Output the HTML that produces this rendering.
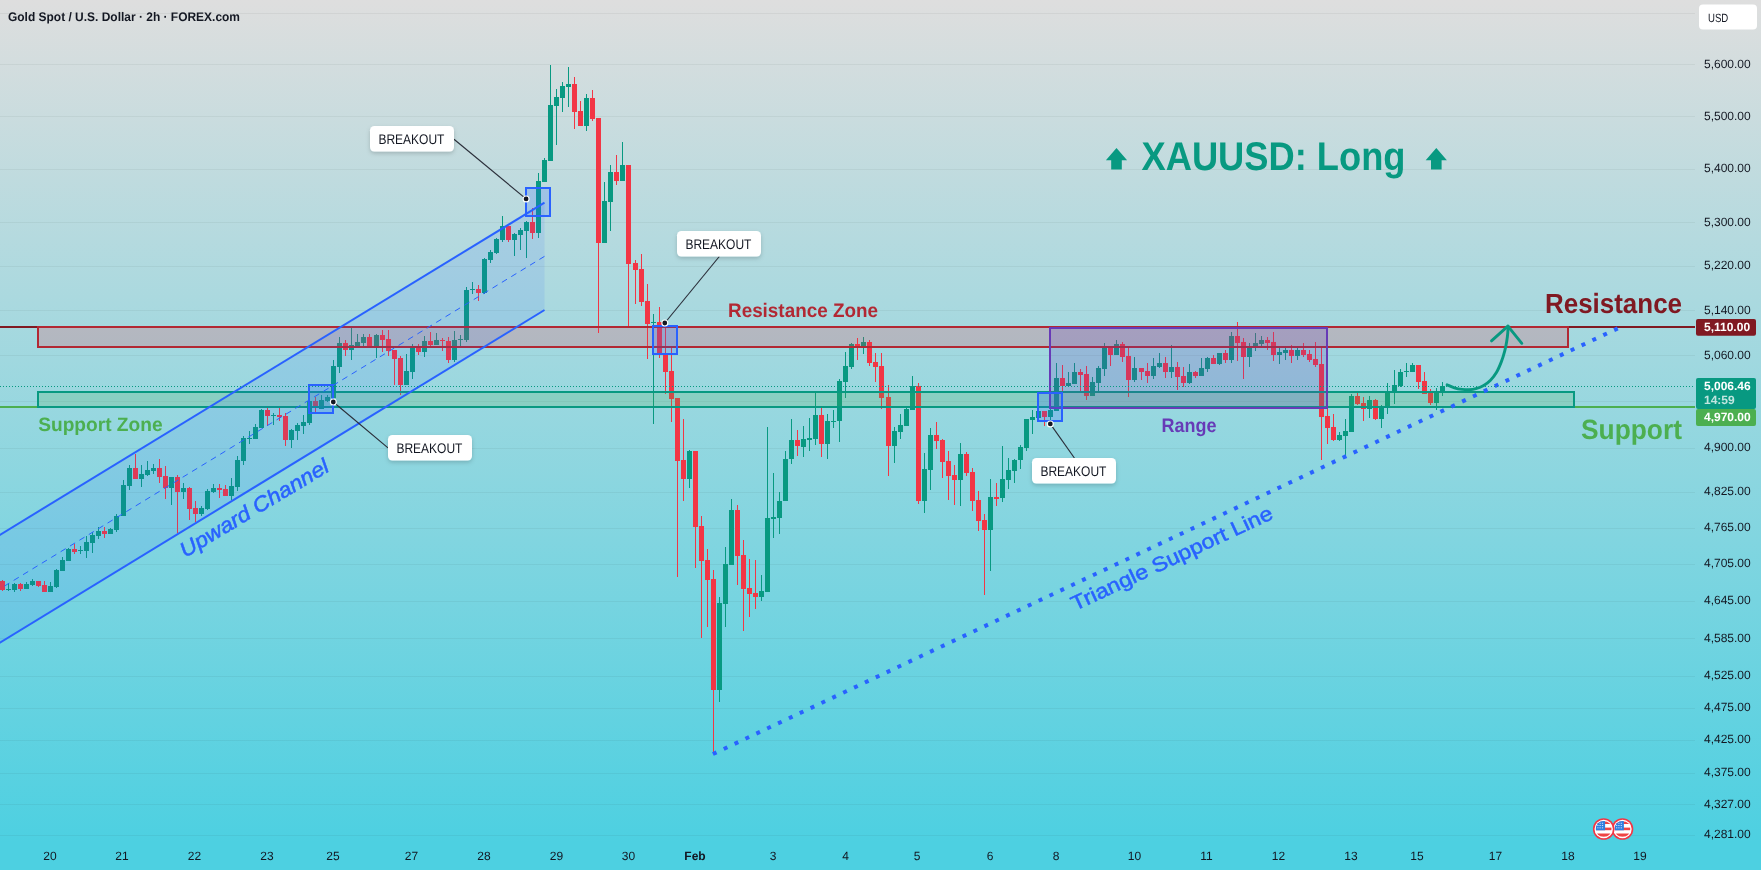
<!DOCTYPE html>
<html lang="en"><head><meta charset="utf-8"><title>XAUUSD: Long</title>
<style>
html,body{margin:0;padding:0;background:#4dd0e1;overflow:hidden}
svg{display:block}
text{font-family:'Liberation Sans', Arial, sans-serif;text-rendering:geometricPrecision}
svg{will-change:transform}
.ax{font-size:12px;fill:#131722}
.co{font-size:14px;fill:#131722}
</style></head><body>
<svg width="1761" height="870" viewBox="0 0 1761 870">
<defs>
<linearGradient id="bg" x1="0" y1="0" x2="0" y2="1"><stop offset="0" stop-color="#dedede"/><stop offset="1" stop-color="#4dd0e1"/></linearGradient>
<filter id="sh" x="-20%" y="-30%" width="140%" height="180%"><feDropShadow dx="0" dy="2" stdDeviation="2" flood-color="#000" flood-opacity="0.18"/></filter>
<clipPath id="fc"><circle cx="0" cy="0" r="8"/></clipPath>

</defs>
<rect width="1761" height="842" fill="url(#bg)"/><rect y="842" width="1761" height="28" fill="#4dd0e1"/>

<g stroke="#2a2e39" stroke-opacity="0.06" stroke-width="1" shape-rendering="crispEdges">
<line x1="0" y1="13.5" x2="1695" y2="13.5"/>
<line x1="0" y1="64.5" x2="1695" y2="64.5"/>
<line x1="0" y1="116.5" x2="1695" y2="116.5"/>
<line x1="0" y1="169.5" x2="1695" y2="169.5"/>
<line x1="0" y1="222.5" x2="1695" y2="222.5"/>
<line x1="0" y1="266.5" x2="1695" y2="266.5"/>
<line x1="0" y1="310.5" x2="1695" y2="310.5"/>
<line x1="0" y1="355.5" x2="1695" y2="355.5"/>
<line x1="0" y1="401.5" x2="1695" y2="401.5"/>
<line x1="0" y1="448.5" x2="1695" y2="448.5"/>
<line x1="0" y1="492.5" x2="1695" y2="492.5"/>
<line x1="0" y1="528.5" x2="1695" y2="528.5"/>
<line x1="0" y1="564.5" x2="1695" y2="564.5"/>
<line x1="0" y1="601.5" x2="1695" y2="601.5"/>
<line x1="0" y1="638.5" x2="1695" y2="638.5"/>
<line x1="0" y1="676.5" x2="1695" y2="676.5"/>
<line x1="0" y1="708.5" x2="1695" y2="708.5"/>
<line x1="0" y1="740.5" x2="1695" y2="740.5"/>
<line x1="0" y1="773.5" x2="1695" y2="773.5"/>
<line x1="0" y1="804.5" x2="1695" y2="804.5"/>
<line x1="0" y1="835.5" x2="1695" y2="835.5"/>
</g>
<g shape-rendering="crispEdges">
<rect x="2" y="580" width="1" height="11" fill="#f23645"/><rect x="0" y="581" width="5" height="9" fill="#f23645"/>
<rect x="8" y="583" width="1" height="8" fill="#089981"/><rect x="6" y="589" width="5" height="1" fill="#089981"/>
<rect x="14" y="583" width="1" height="9" fill="#089981"/><rect x="12" y="584" width="5" height="6" fill="#089981"/>
<rect x="20" y="583" width="1" height="8" fill="#f23645"/><rect x="18" y="584" width="5" height="5" fill="#f23645"/>
<rect x="26" y="582" width="1" height="7" fill="#089981"/><rect x="24" y="584" width="5" height="5" fill="#089981"/>
<rect x="32" y="579" width="1" height="7" fill="#089981"/><rect x="30" y="581" width="5" height="4" fill="#089981"/>
<rect x="38" y="581" width="1" height="6" fill="#f23645"/><rect x="36" y="581" width="5" height="5" fill="#f23645"/>
<rect x="44" y="581" width="1" height="11" fill="#f23645"/><rect x="42" y="585" width="5" height="7" fill="#f23645"/>
<rect x="50" y="582" width="1" height="10" fill="#089981"/><rect x="48" y="586" width="5" height="6" fill="#089981"/>
<rect x="56" y="569" width="1" height="19" fill="#089981"/><rect x="54" y="570" width="5" height="17" fill="#089981"/>
<rect x="62" y="557" width="1" height="14" fill="#089981"/><rect x="60" y="560" width="5" height="11" fill="#089981"/>
<rect x="68" y="548" width="1" height="13" fill="#089981"/><rect x="66" y="549" width="5" height="12" fill="#089981"/>
<rect x="74" y="544" width="1" height="10" fill="#f23645"/><rect x="72" y="549" width="5" height="3" fill="#f23645"/>
<rect x="80" y="546" width="1" height="8" fill="#089981"/><rect x="78" y="550" width="5" height="1" fill="#089981"/>
<rect x="86" y="536" width="1" height="22" fill="#089981"/><rect x="84" y="542" width="5" height="9" fill="#089981"/>
<rect x="92" y="532" width="1" height="21" fill="#089981"/><rect x="90" y="535" width="5" height="8" fill="#089981"/>
<rect x="98" y="527" width="1" height="12" fill="#089981"/><rect x="96" y="531" width="5" height="5" fill="#089981"/>
<rect x="104" y="527" width="1" height="11" fill="#f23645"/><rect x="102" y="531" width="5" height="3" fill="#f23645"/>
<rect x="110" y="528" width="1" height="6" fill="#089981"/><rect x="108" y="529" width="5" height="5" fill="#089981"/>
<rect x="116" y="514" width="1" height="18" fill="#089981"/><rect x="114" y="516" width="5" height="14" fill="#089981"/>
<rect x="123" y="480" width="1" height="36" fill="#089981"/><rect x="121" y="485" width="5" height="31" fill="#089981"/>
<rect x="129" y="465" width="1" height="25" fill="#089981"/><rect x="127" y="468" width="5" height="18" fill="#089981"/>
<rect x="135" y="454" width="1" height="25" fill="#f23645"/><rect x="133" y="468" width="5" height="11" fill="#f23645"/>
<rect x="141" y="465" width="1" height="22" fill="#089981"/><rect x="139" y="474" width="5" height="5" fill="#089981"/>
<rect x="147" y="461" width="1" height="15" fill="#089981"/><rect x="145" y="470" width="5" height="5" fill="#089981"/>
<rect x="153" y="464" width="1" height="10" fill="#089981"/><rect x="151" y="468" width="5" height="3" fill="#089981"/>
<rect x="159" y="459" width="1" height="24" fill="#f23645"/><rect x="157" y="468" width="5" height="9" fill="#f23645"/>
<rect x="165" y="466" width="1" height="33" fill="#f23645"/><rect x="163" y="476" width="5" height="12" fill="#f23645"/>
<rect x="171" y="477" width="1" height="28" fill="#089981"/><rect x="169" y="477" width="5" height="11" fill="#089981"/>
<rect x="177" y="475" width="1" height="58" fill="#f23645"/><rect x="175" y="477" width="5" height="15" fill="#f23645"/>
<rect x="183" y="483" width="1" height="16" fill="#089981"/><rect x="181" y="488" width="5" height="4" fill="#089981"/>
<rect x="189" y="487" width="1" height="33" fill="#f23645"/><rect x="187" y="488" width="5" height="21" fill="#f23645"/>
<rect x="195" y="501" width="1" height="21" fill="#f23645"/><rect x="193" y="508" width="5" height="6" fill="#f23645"/>
<rect x="201" y="506" width="1" height="10" fill="#089981"/><rect x="199" y="508" width="5" height="6" fill="#089981"/>
<rect x="207" y="489" width="1" height="21" fill="#089981"/><rect x="205" y="491" width="5" height="18" fill="#089981"/>
<rect x="213" y="484" width="1" height="9" fill="#089981"/><rect x="211" y="488" width="5" height="4" fill="#089981"/>
<rect x="219" y="484" width="1" height="14" fill="#f23645"/><rect x="217" y="488" width="5" height="2" fill="#f23645"/>
<rect x="225" y="485" width="1" height="11" fill="#f23645"/><rect x="223" y="489" width="5" height="7" fill="#f23645"/>
<rect x="231" y="478" width="1" height="22" fill="#089981"/><rect x="229" y="486" width="5" height="10" fill="#089981"/>
<rect x="237" y="456" width="1" height="35" fill="#089981"/><rect x="235" y="460" width="5" height="27" fill="#089981"/>
<rect x="243" y="436" width="1" height="29" fill="#089981"/><rect x="241" y="438" width="5" height="23" fill="#089981"/>
<rect x="249" y="431" width="1" height="13" fill="#089981"/><rect x="247" y="438" width="5" height="1" fill="#089981"/>
<rect x="255" y="424" width="1" height="15" fill="#089981"/><rect x="253" y="427" width="5" height="12" fill="#089981"/>
<rect x="261" y="409" width="1" height="19" fill="#089981"/><rect x="259" y="410" width="5" height="18" fill="#089981"/>
<rect x="267" y="408" width="1" height="18" fill="#f23645"/><rect x="265" y="410" width="5" height="6" fill="#f23645"/>
<rect x="273" y="413" width="1" height="12" fill="#089981"/><rect x="271" y="415" width="5" height="1" fill="#089981"/>
<rect x="279" y="408" width="1" height="13" fill="#f23645"/><rect x="277" y="415" width="5" height="2" fill="#f23645"/>
<rect x="285" y="413" width="1" height="33" fill="#f23645"/><rect x="283" y="416" width="5" height="24" fill="#f23645"/>
<rect x="291" y="429" width="1" height="19" fill="#089981"/><rect x="289" y="430" width="5" height="10" fill="#089981"/>
<rect x="297" y="423" width="1" height="17" fill="#089981"/><rect x="295" y="425" width="5" height="6" fill="#089981"/>
<rect x="303" y="415" width="1" height="19" fill="#089981"/><rect x="301" y="422" width="5" height="4" fill="#089981"/>
<rect x="309" y="401" width="1" height="24" fill="#089981"/><rect x="307" y="401" width="5" height="22" fill="#089981"/>
<rect x="315" y="397" width="1" height="15" fill="#f23645"/><rect x="313" y="401" width="5" height="7" fill="#f23645"/>
<rect x="321" y="395" width="1" height="14" fill="#089981"/><rect x="319" y="400" width="5" height="9" fill="#089981"/>
<rect x="327" y="395" width="1" height="7" fill="#089981"/><rect x="325" y="397" width="5" height="4" fill="#089981"/>
<rect x="333" y="360" width="1" height="38" fill="#089981"/><rect x="331" y="366" width="5" height="32" fill="#089981"/>
<rect x="339" y="337" width="1" height="36" fill="#089981"/><rect x="337" y="343" width="5" height="24" fill="#089981"/>
<rect x="345" y="340" width="1" height="16" fill="#f23645"/><rect x="343" y="343" width="5" height="7" fill="#f23645"/>
<rect x="351" y="328" width="1" height="32" fill="#089981"/><rect x="349" y="345" width="5" height="5" fill="#089981"/>
<rect x="357" y="334" width="1" height="12" fill="#089981"/><rect x="355" y="342" width="5" height="4" fill="#089981"/>
<rect x="363" y="334" width="1" height="12" fill="#089981"/><rect x="361" y="337" width="5" height="6" fill="#089981"/>
<rect x="369" y="334" width="1" height="12" fill="#f23645"/><rect x="367" y="337" width="5" height="9" fill="#f23645"/>
<rect x="376" y="334" width="1" height="24" fill="#089981"/><rect x="374" y="335" width="5" height="11" fill="#089981"/>
<rect x="382" y="330" width="1" height="22" fill="#f23645"/><rect x="380" y="335" width="5" height="5" fill="#f23645"/>
<rect x="388" y="330" width="1" height="26" fill="#f23645"/><rect x="386" y="339" width="5" height="12" fill="#f23645"/>
<rect x="394" y="350" width="1" height="35" fill="#f23645"/><rect x="392" y="350" width="5" height="9" fill="#f23645"/>
<rect x="400" y="356" width="1" height="39" fill="#f23645"/><rect x="398" y="358" width="5" height="27" fill="#f23645"/>
<rect x="406" y="354" width="1" height="31" fill="#089981"/><rect x="404" y="371" width="5" height="14" fill="#089981"/>
<rect x="412" y="344" width="1" height="35" fill="#089981"/><rect x="410" y="348" width="5" height="24" fill="#089981"/>
<rect x="418" y="344" width="1" height="11" fill="#f23645"/><rect x="416" y="348" width="5" height="4" fill="#f23645"/>
<rect x="424" y="336" width="1" height="21" fill="#089981"/><rect x="422" y="341" width="5" height="11" fill="#089981"/>
<rect x="430" y="332" width="1" height="14" fill="#f23645"/><rect x="428" y="341" width="5" height="4" fill="#f23645"/>
<rect x="436" y="333" width="1" height="12" fill="#089981"/><rect x="434" y="340" width="5" height="5" fill="#089981"/>
<rect x="442" y="338" width="1" height="13" fill="#f23645"/><rect x="440" y="340" width="5" height="1" fill="#f23645"/>
<rect x="448" y="337" width="1" height="26" fill="#f23645"/><rect x="446" y="341" width="5" height="19" fill="#f23645"/>
<rect x="454" y="331" width="1" height="31" fill="#089981"/><rect x="452" y="340" width="5" height="20" fill="#089981"/>
<rect x="460" y="335" width="1" height="11" fill="#089981"/><rect x="458" y="339" width="5" height="1" fill="#089981"/>
<rect x="466" y="287" width="1" height="55" fill="#089981"/><rect x="464" y="290" width="5" height="50" fill="#089981"/>
<rect x="472" y="282" width="1" height="12" fill="#089981"/><rect x="470" y="289" width="5" height="1" fill="#089981"/>
<rect x="478" y="285" width="1" height="16" fill="#f23645"/><rect x="476" y="289" width="5" height="4" fill="#f23645"/>
<rect x="484" y="258" width="1" height="36" fill="#089981"/><rect x="482" y="259" width="5" height="34" fill="#089981"/>
<rect x="490" y="250" width="1" height="13" fill="#089981"/><rect x="488" y="252" width="5" height="8" fill="#089981"/>
<rect x="496" y="238" width="1" height="16" fill="#089981"/><rect x="494" y="239" width="5" height="14" fill="#089981"/>
<rect x="502" y="216" width="1" height="26" fill="#089981"/><rect x="500" y="226" width="5" height="14" fill="#089981"/>
<rect x="508" y="226" width="1" height="16" fill="#f23645"/><rect x="506" y="226" width="5" height="14" fill="#f23645"/>
<rect x="514" y="233" width="1" height="23" fill="#089981"/><rect x="512" y="234" width="5" height="6" fill="#089981"/>
<rect x="520" y="228" width="1" height="22" fill="#089981"/><rect x="518" y="230" width="5" height="5" fill="#089981"/>
<rect x="526" y="221" width="1" height="37" fill="#089981"/><rect x="524" y="222" width="5" height="9" fill="#089981"/>
<rect x="532" y="208" width="1" height="31" fill="#f23645"/><rect x="530" y="222" width="5" height="11" fill="#f23645"/>
<rect x="538" y="173" width="1" height="65" fill="#089981"/><rect x="536" y="181" width="5" height="52" fill="#089981"/>
<rect x="544" y="158" width="1" height="24" fill="#089981"/><rect x="542" y="160" width="5" height="22" fill="#089981"/>
<rect x="550" y="65" width="1" height="96" fill="#089981"/><rect x="548" y="105" width="5" height="56" fill="#089981"/>
<rect x="556" y="89" width="1" height="56" fill="#089981"/><rect x="554" y="97" width="5" height="9" fill="#089981"/>
<rect x="562" y="82" width="1" height="30" fill="#089981"/><rect x="560" y="86" width="5" height="12" fill="#089981"/>
<rect x="568" y="67" width="1" height="40" fill="#089981"/><rect x="566" y="84" width="5" height="3" fill="#089981"/>
<rect x="574" y="77" width="1" height="52" fill="#f23645"/><rect x="572" y="84" width="5" height="28" fill="#f23645"/>
<rect x="580" y="101" width="1" height="25" fill="#f23645"/><rect x="578" y="111" width="5" height="15" fill="#f23645"/>
<rect x="586" y="94" width="1" height="37" fill="#089981"/><rect x="584" y="98" width="5" height="28" fill="#089981"/>
<rect x="592" y="90" width="1" height="31" fill="#f23645"/><rect x="590" y="98" width="5" height="21" fill="#f23645"/>
<rect x="598" y="118" width="1" height="215" fill="#f23645"/><rect x="596" y="118" width="5" height="125" fill="#f23645"/>
<rect x="604" y="182" width="1" height="61" fill="#089981"/><rect x="602" y="201" width="5" height="42" fill="#089981"/>
<rect x="610" y="165" width="1" height="66" fill="#089981"/><rect x="608" y="172" width="5" height="30" fill="#089981"/>
<rect x="616" y="155" width="1" height="30" fill="#f23645"/><rect x="614" y="172" width="5" height="9" fill="#f23645"/>
<rect x="622" y="142" width="1" height="39" fill="#089981"/><rect x="620" y="165" width="5" height="16" fill="#089981"/>
<rect x="628" y="165" width="1" height="162" fill="#f23645"/><rect x="626" y="165" width="5" height="99" fill="#f23645"/>
<rect x="635" y="260" width="1" height="44" fill="#f23645"/><rect x="633" y="263" width="5" height="7" fill="#f23645"/>
<rect x="641" y="254" width="1" height="52" fill="#f23645"/><rect x="639" y="269" width="5" height="33" fill="#f23645"/>
<rect x="647" y="284" width="1" height="75" fill="#f23645"/><rect x="645" y="301" width="5" height="23" fill="#f23645"/>
<rect x="653" y="314" width="1" height="110" fill="#089981"/><rect x="651" y="322" width="5" height="1" fill="#089981"/>
<rect x="659" y="307" width="1" height="51" fill="#f23645"/><rect x="657" y="322" width="5" height="31" fill="#f23645"/>
<rect x="665" y="327" width="1" height="67" fill="#f23645"/><rect x="663" y="353" width="5" height="19" fill="#f23645"/>
<rect x="671" y="348" width="1" height="74" fill="#f23645"/><rect x="669" y="371" width="5" height="28" fill="#f23645"/>
<rect x="677" y="398" width="1" height="179" fill="#f23645"/><rect x="675" y="398" width="5" height="63" fill="#f23645"/>
<rect x="683" y="419" width="1" height="82" fill="#f23645"/><rect x="681" y="460" width="5" height="19" fill="#f23645"/>
<rect x="689" y="450" width="1" height="38" fill="#089981"/><rect x="687" y="451" width="5" height="28" fill="#089981"/>
<rect x="695" y="451" width="1" height="117" fill="#f23645"/><rect x="693" y="451" width="5" height="76" fill="#f23645"/>
<rect x="701" y="516" width="1" height="122" fill="#f23645"/><rect x="699" y="526" width="5" height="35" fill="#f23645"/>
<rect x="707" y="549" width="1" height="78" fill="#f23645"/><rect x="705" y="560" width="5" height="20" fill="#f23645"/>
<rect x="713" y="570" width="1" height="183" fill="#f23645"/><rect x="711" y="579" width="5" height="111" fill="#f23645"/>
<rect x="719" y="597" width="1" height="105" fill="#089981"/><rect x="717" y="603" width="5" height="87" fill="#089981"/>
<rect x="725" y="547" width="1" height="80" fill="#089981"/><rect x="723" y="564" width="5" height="40" fill="#089981"/>
<rect x="731" y="499" width="1" height="66" fill="#089981"/><rect x="729" y="510" width="5" height="55" fill="#089981"/>
<rect x="737" y="505" width="1" height="80" fill="#f23645"/><rect x="735" y="510" width="5" height="46" fill="#f23645"/>
<rect x="743" y="540" width="1" height="91" fill="#f23645"/><rect x="741" y="555" width="5" height="34" fill="#f23645"/>
<rect x="749" y="559" width="1" height="58" fill="#f23645"/><rect x="747" y="588" width="5" height="6" fill="#f23645"/>
<rect x="755" y="560" width="1" height="49" fill="#f23645"/><rect x="753" y="593" width="5" height="4" fill="#f23645"/>
<rect x="761" y="575" width="1" height="26" fill="#089981"/><rect x="759" y="591" width="5" height="6" fill="#089981"/>
<rect x="767" y="427" width="1" height="165" fill="#089981"/><rect x="765" y="518" width="5" height="74" fill="#089981"/>
<rect x="773" y="473" width="1" height="65" fill="#089981"/><rect x="771" y="517" width="5" height="2" fill="#089981"/>
<rect x="779" y="492" width="1" height="42" fill="#089981"/><rect x="777" y="501" width="5" height="17" fill="#089981"/>
<rect x="785" y="451" width="1" height="50" fill="#089981"/><rect x="783" y="459" width="5" height="42" fill="#089981"/>
<rect x="791" y="419" width="1" height="45" fill="#089981"/><rect x="789" y="440" width="5" height="19" fill="#089981"/>
<rect x="797" y="430" width="1" height="26" fill="#f23645"/><rect x="795" y="440" width="5" height="6" fill="#f23645"/>
<rect x="803" y="426" width="1" height="31" fill="#089981"/><rect x="801" y="439" width="5" height="8" fill="#089981"/>
<rect x="809" y="418" width="1" height="33" fill="#089981"/><rect x="807" y="438" width="5" height="2" fill="#089981"/>
<rect x="815" y="393" width="1" height="52" fill="#089981"/><rect x="813" y="415" width="5" height="24" fill="#089981"/>
<rect x="821" y="408" width="1" height="49" fill="#f23645"/><rect x="819" y="415" width="5" height="29" fill="#f23645"/>
<rect x="827" y="414" width="1" height="45" fill="#089981"/><rect x="825" y="421" width="5" height="23" fill="#089981"/>
<rect x="833" y="410" width="1" height="18" fill="#089981"/><rect x="831" y="421" width="5" height="1" fill="#089981"/>
<rect x="839" y="379" width="1" height="63" fill="#089981"/><rect x="837" y="381" width="5" height="40" fill="#089981"/>
<rect x="845" y="352" width="1" height="46" fill="#089981"/><rect x="843" y="366" width="5" height="16" fill="#089981"/>
<rect x="851" y="343" width="1" height="26" fill="#089981"/><rect x="849" y="344" width="5" height="23" fill="#089981"/>
<rect x="857" y="338" width="1" height="22" fill="#f23645"/><rect x="855" y="344" width="5" height="3" fill="#f23645"/>
<rect x="863" y="337" width="1" height="17" fill="#089981"/><rect x="861" y="342" width="5" height="4" fill="#089981"/>
<rect x="869" y="340" width="1" height="26" fill="#f23645"/><rect x="867" y="342" width="5" height="21" fill="#f23645"/>
<rect x="875" y="353" width="1" height="29" fill="#f23645"/><rect x="873" y="362" width="5" height="5" fill="#f23645"/>
<rect x="881" y="353" width="1" height="56" fill="#f23645"/><rect x="879" y="366" width="5" height="32" fill="#f23645"/>
<rect x="888" y="385" width="1" height="91" fill="#f23645"/><rect x="886" y="397" width="5" height="49" fill="#f23645"/>
<rect x="894" y="427" width="1" height="36" fill="#089981"/><rect x="892" y="431" width="5" height="15" fill="#089981"/>
<rect x="900" y="414" width="1" height="25" fill="#089981"/><rect x="898" y="425" width="5" height="7" fill="#089981"/>
<rect x="906" y="407" width="1" height="19" fill="#089981"/><rect x="904" y="409" width="5" height="17" fill="#089981"/>
<rect x="912" y="376" width="1" height="34" fill="#089981"/><rect x="910" y="386" width="5" height="24" fill="#089981"/>
<rect x="918" y="383" width="1" height="121" fill="#f23645"/><rect x="916" y="386" width="5" height="115" fill="#f23645"/>
<rect x="924" y="453" width="1" height="60" fill="#089981"/><rect x="922" y="469" width="5" height="32" fill="#089981"/>
<rect x="930" y="428" width="1" height="62" fill="#089981"/><rect x="928" y="435" width="5" height="35" fill="#089981"/>
<rect x="936" y="422" width="1" height="27" fill="#f23645"/><rect x="934" y="435" width="5" height="6" fill="#f23645"/>
<rect x="942" y="439" width="1" height="39" fill="#f23645"/><rect x="940" y="440" width="5" height="22" fill="#f23645"/>
<rect x="948" y="451" width="1" height="49" fill="#f23645"/><rect x="946" y="461" width="5" height="15" fill="#f23645"/>
<rect x="954" y="465" width="1" height="40" fill="#f23645"/><rect x="952" y="475" width="5" height="5" fill="#f23645"/>
<rect x="960" y="443" width="1" height="63" fill="#089981"/><rect x="958" y="454" width="5" height="26" fill="#089981"/>
<rect x="966" y="452" width="1" height="24" fill="#f23645"/><rect x="964" y="454" width="5" height="19" fill="#f23645"/>
<rect x="972" y="468" width="1" height="43" fill="#f23645"/><rect x="970" y="472" width="5" height="29" fill="#f23645"/>
<rect x="978" y="491" width="1" height="40" fill="#f23645"/><rect x="976" y="500" width="5" height="21" fill="#f23645"/>
<rect x="984" y="514" width="1" height="81" fill="#f23645"/><rect x="982" y="520" width="5" height="10" fill="#f23645"/>
<rect x="990" y="479" width="1" height="92" fill="#089981"/><rect x="988" y="497" width="5" height="33" fill="#089981"/>
<rect x="996" y="483" width="1" height="23" fill="#f23645"/><rect x="994" y="497" width="5" height="2" fill="#f23645"/>
<rect x="1002" y="446" width="1" height="56" fill="#089981"/><rect x="1000" y="479" width="5" height="19" fill="#089981"/>
<rect x="1008" y="458" width="1" height="31" fill="#089981"/><rect x="1006" y="470" width="5" height="10" fill="#089981"/>
<rect x="1014" y="459" width="1" height="24" fill="#089981"/><rect x="1012" y="460" width="5" height="11" fill="#089981"/>
<rect x="1020" y="445" width="1" height="24" fill="#089981"/><rect x="1018" y="447" width="5" height="13" fill="#089981"/>
<rect x="1026" y="419" width="1" height="32" fill="#089981"/><rect x="1024" y="419" width="5" height="29" fill="#089981"/>
<rect x="1032" y="410" width="1" height="24" fill="#089981"/><rect x="1030" y="417" width="5" height="3" fill="#089981"/>
<rect x="1038" y="411" width="1" height="7" fill="#089981"/><rect x="1036" y="411" width="5" height="7" fill="#089981"/>
<rect x="1044" y="411" width="1" height="15" fill="#f23645"/><rect x="1042" y="411" width="5" height="6" fill="#f23645"/>
<rect x="1050" y="409" width="1" height="11" fill="#089981"/><rect x="1048" y="410" width="5" height="7" fill="#089981"/>
<rect x="1056" y="363" width="1" height="48" fill="#089981"/><rect x="1054" y="378" width="5" height="33" fill="#089981"/>
<rect x="1062" y="365" width="1" height="26" fill="#f23645"/><rect x="1060" y="378" width="5" height="8" fill="#f23645"/>
<rect x="1068" y="372" width="1" height="15" fill="#089981"/><rect x="1066" y="383" width="5" height="3" fill="#089981"/>
<rect x="1074" y="363" width="1" height="21" fill="#089981"/><rect x="1072" y="372" width="5" height="12" fill="#089981"/>
<rect x="1080" y="369" width="1" height="22" fill="#f23645"/><rect x="1078" y="372" width="5" height="3" fill="#f23645"/>
<rect x="1086" y="366" width="1" height="34" fill="#f23645"/><rect x="1084" y="374" width="5" height="22" fill="#f23645"/>
<rect x="1092" y="377" width="1" height="19" fill="#089981"/><rect x="1090" y="382" width="5" height="14" fill="#089981"/>
<rect x="1098" y="366" width="1" height="25" fill="#089981"/><rect x="1096" y="368" width="5" height="15" fill="#089981"/>
<rect x="1104" y="343" width="1" height="33" fill="#089981"/><rect x="1102" y="348" width="5" height="21" fill="#089981"/>
<rect x="1110" y="348" width="1" height="18" fill="#f23645"/><rect x="1108" y="348" width="5" height="7" fill="#f23645"/>
<rect x="1116" y="340" width="1" height="15" fill="#089981"/><rect x="1114" y="344" width="5" height="11" fill="#089981"/>
<rect x="1122" y="342" width="1" height="20" fill="#f23645"/><rect x="1120" y="344" width="5" height="13" fill="#f23645"/>
<rect x="1128" y="347" width="1" height="50" fill="#f23645"/><rect x="1126" y="356" width="5" height="24" fill="#f23645"/>
<rect x="1134" y="357" width="1" height="25" fill="#089981"/><rect x="1132" y="368" width="5" height="12" fill="#089981"/>
<rect x="1141" y="368" width="1" height="12" fill="#f23645"/><rect x="1139" y="368" width="5" height="4" fill="#f23645"/>
<rect x="1147" y="363" width="1" height="20" fill="#f23645"/><rect x="1145" y="371" width="5" height="5" fill="#f23645"/>
<rect x="1153" y="358" width="1" height="21" fill="#089981"/><rect x="1151" y="366" width="5" height="10" fill="#089981"/>
<rect x="1159" y="353" width="1" height="15" fill="#089981"/><rect x="1157" y="363" width="5" height="4" fill="#089981"/>
<rect x="1165" y="357" width="1" height="21" fill="#f23645"/><rect x="1163" y="363" width="5" height="9" fill="#f23645"/>
<rect x="1171" y="345" width="1" height="33" fill="#089981"/><rect x="1169" y="367" width="5" height="5" fill="#089981"/>
<rect x="1177" y="362" width="1" height="28" fill="#f23645"/><rect x="1175" y="367" width="5" height="10" fill="#f23645"/>
<rect x="1183" y="367" width="1" height="20" fill="#f23645"/><rect x="1181" y="376" width="5" height="7" fill="#f23645"/>
<rect x="1189" y="364" width="1" height="20" fill="#089981"/><rect x="1187" y="372" width="5" height="11" fill="#089981"/>
<rect x="1195" y="371" width="1" height="7" fill="#f23645"/><rect x="1193" y="372" width="5" height="4" fill="#f23645"/>
<rect x="1201" y="358" width="1" height="18" fill="#089981"/><rect x="1199" y="368" width="5" height="8" fill="#089981"/>
<rect x="1207" y="357" width="1" height="15" fill="#089981"/><rect x="1205" y="358" width="5" height="11" fill="#089981"/>
<rect x="1213" y="355" width="1" height="9" fill="#f23645"/><rect x="1211" y="358" width="5" height="6" fill="#f23645"/>
<rect x="1219" y="353" width="1" height="12" fill="#089981"/><rect x="1217" y="353" width="5" height="11" fill="#089981"/>
<rect x="1225" y="350" width="1" height="13" fill="#f23645"/><rect x="1223" y="353" width="5" height="7" fill="#f23645"/>
<rect x="1231" y="332" width="1" height="31" fill="#089981"/><rect x="1229" y="336" width="5" height="24" fill="#089981"/>
<rect x="1237" y="322" width="1" height="39" fill="#f23645"/><rect x="1235" y="336" width="5" height="7" fill="#f23645"/>
<rect x="1243" y="338" width="1" height="41" fill="#f23645"/><rect x="1241" y="342" width="5" height="15" fill="#f23645"/>
<rect x="1249" y="343" width="1" height="24" fill="#089981"/><rect x="1247" y="348" width="5" height="9" fill="#089981"/>
<rect x="1255" y="333" width="1" height="18" fill="#089981"/><rect x="1253" y="343" width="5" height="3" fill="#089981"/>
<rect x="1261" y="336" width="1" height="10" fill="#089981"/><rect x="1259" y="340" width="5" height="4" fill="#089981"/>
<rect x="1267" y="337" width="1" height="13" fill="#f23645"/><rect x="1265" y="340" width="5" height="3" fill="#f23645"/>
<rect x="1273" y="332" width="1" height="29" fill="#f23645"/><rect x="1271" y="342" width="5" height="13" fill="#f23645"/>
<rect x="1279" y="348" width="1" height="16" fill="#089981"/><rect x="1277" y="352" width="5" height="3" fill="#089981"/>
<rect x="1285" y="348" width="1" height="12" fill="#089981"/><rect x="1283" y="350" width="5" height="3" fill="#089981"/>
<rect x="1291" y="345" width="1" height="18" fill="#f23645"/><rect x="1289" y="350" width="5" height="6" fill="#f23645"/>
<rect x="1297" y="348" width="1" height="12" fill="#089981"/><rect x="1295" y="350" width="5" height="6" fill="#089981"/>
<rect x="1303" y="343" width="1" height="14" fill="#f23645"/><rect x="1301" y="350" width="5" height="5" fill="#f23645"/>
<rect x="1309" y="350" width="1" height="12" fill="#f23645"/><rect x="1307" y="354" width="5" height="6" fill="#f23645"/>
<rect x="1315" y="342" width="1" height="25" fill="#f23645"/><rect x="1313" y="359" width="5" height="6" fill="#f23645"/>
<rect x="1321" y="348" width="1" height="112" fill="#f23645"/><rect x="1319" y="364" width="5" height="53" fill="#f23645"/>
<rect x="1327" y="409" width="1" height="35" fill="#f23645"/><rect x="1325" y="416" width="5" height="12" fill="#f23645"/>
<rect x="1333" y="414" width="1" height="27" fill="#f23645"/><rect x="1331" y="427" width="5" height="13" fill="#f23645"/>
<rect x="1339" y="432" width="1" height="9" fill="#089981"/><rect x="1337" y="435" width="5" height="5" fill="#089981"/>
<rect x="1345" y="419" width="1" height="37" fill="#089981"/><rect x="1343" y="431" width="5" height="5" fill="#089981"/>
<rect x="1351" y="394" width="1" height="38" fill="#089981"/><rect x="1349" y="396" width="5" height="36" fill="#089981"/>
<rect x="1357" y="393" width="1" height="12" fill="#f23645"/><rect x="1355" y="396" width="5" height="8" fill="#f23645"/>
<rect x="1363" y="397" width="1" height="24" fill="#f23645"/><rect x="1361" y="403" width="5" height="6" fill="#f23645"/>
<rect x="1369" y="396" width="1" height="22" fill="#089981"/><rect x="1367" y="400" width="5" height="9" fill="#089981"/>
<rect x="1375" y="399" width="1" height="21" fill="#f23645"/><rect x="1373" y="400" width="5" height="19" fill="#f23645"/>
<rect x="1381" y="405" width="1" height="23" fill="#089981"/><rect x="1379" y="406" width="5" height="13" fill="#089981"/>
<rect x="1387" y="383" width="1" height="31" fill="#089981"/><rect x="1385" y="392" width="5" height="14" fill="#089981"/>
<rect x="1394" y="370" width="1" height="34" fill="#089981"/><rect x="1392" y="385" width="5" height="7" fill="#089981"/>
<rect x="1400" y="369" width="1" height="18" fill="#089981"/><rect x="1398" y="372" width="5" height="14" fill="#089981"/>
<rect x="1406" y="363" width="1" height="14" fill="#089981"/><rect x="1404" y="371" width="5" height="1" fill="#089981"/>
<rect x="1412" y="363" width="1" height="9" fill="#089981"/><rect x="1410" y="365" width="5" height="7" fill="#089981"/>
<rect x="1418" y="365" width="1" height="24" fill="#f23645"/><rect x="1416" y="365" width="5" height="17" fill="#f23645"/>
<rect x="1424" y="372" width="1" height="22" fill="#f23645"/><rect x="1422" y="381" width="5" height="13" fill="#f23645"/>
<rect x="1430" y="389" width="1" height="16" fill="#f23645"/><rect x="1428" y="393" width="5" height="10" fill="#f23645"/>
<rect x="1436" y="388" width="1" height="22" fill="#089981"/><rect x="1434" y="392" width="5" height="11" fill="#089981"/>
<rect x="1442" y="382" width="1" height="14" fill="#089981"/><rect x="1440" y="386" width="5" height="6" fill="#089981"/>
</g>
<g shape-rendering="crispEdges">
<rect x="0" y="326" width="1695" height="2" fill="#801922"/>
<rect x="0" y="406" width="1695" height="2" fill="#4caf50"/>
<rect x="38" y="327" width="1530" height="20" fill="#f23645" fill-opacity="0.2" stroke="#b22833" stroke-width="2"/>
<rect x="38" y="392" width="1536" height="15" fill="#4caf50" fill-opacity="0.2" stroke="#089981" stroke-width="2"/>
</g>
<g>
<polygon points="0,534.8 544.5,202.7 544.5,310 0,642.7" fill="#2962ff" fill-opacity="0.1"/>
<line x1="-2" y1="536.02" x2="544.5" y2="202.7" stroke="#2962ff" stroke-width="2"/>
<line x1="-2" y1="643.92" x2="544.5" y2="310" stroke="#2962ff" stroke-width="2"/>
<line x1="0" y1="588.75" x2="544.5" y2="256.35" stroke="#2962ff" stroke-width="1" stroke-dasharray="6 5" stroke-dashoffset="6"/>
</g>
<rect x="1050" y="328" width="277" height="80" fill="#673ab7" fill-opacity="0.2" stroke="#673ab7" stroke-width="2" shape-rendering="crispEdges" transform="scale(1)"/>
<rect x="526" y="188" width="24.0" height="28.0" fill="#2962ff" fill-opacity="0.2" stroke="#2962ff" stroke-width="2" shape-rendering="crispEdges"/>
<rect x="309" y="385" width="24.0" height="28.0" fill="#2962ff" fill-opacity="0.2" stroke="#2962ff" stroke-width="2" shape-rendering="crispEdges"/>
<rect x="653" y="326" width="24.0" height="28.0" fill="#2962ff" fill-opacity="0.2" stroke="#2962ff" stroke-width="2" shape-rendering="crispEdges"/>
<rect x="1038" y="393" width="24.0" height="28.0" fill="#2962ff" fill-opacity="0.2" stroke="#2962ff" stroke-width="2" shape-rendering="crispEdges"/>
<line x1="712.9" y1="754.05" x2="1617.7" y2="328.4" stroke="#2962ff" stroke-width="4" stroke-dasharray="4 8"/>
<g fill="none" stroke="#089981" stroke-width="2.9" stroke-linecap="round" stroke-linejoin="round">
<path d="M1447.1 384.8 C1448.3 385.3 1451.9 387.0 1454.4 387.8 C1456.9 388.6 1459.8 389.1 1462.2 389.4 C1464.7 389.7 1466.8 389.8 1469.1 389.7 C1471.4 389.6 1473.5 389.4 1475.9 388.7 C1478.3 388.0 1481.3 386.9 1483.7 385.5 C1486.1 384.1 1488.4 382.3 1490.5 380.2 C1492.6 378.1 1494.6 375.7 1496.4 372.6 C1498.2 369.6 1499.9 365.5 1501.3 361.9 C1502.7 358.3 1503.8 354.5 1504.7 351.1 C1505.6 347.7 1506.2 344.5 1506.7 341.4 C1507.2 338.3 1507.6 335.1 1507.8 332.6 C1508.0 330.1 1508.0 327.4 1508.1 326.3"/>
<path d="M1491.5 340.9 L1507.9 326.1 L1521.8 343.3"/>
</g>
<text x="728" y="316.8" font-size="19.6" fill="#b22833" font-weight="bold" textLength="150" lengthAdjust="spacingAndGlyphs">Resistance Zone</text>
<text x="38.2" y="430.6" font-size="19.4" fill="#4caf50" font-weight="bold" textLength="124.4" lengthAdjust="spacingAndGlyphs">Support Zone</text>
<text x="1161.5" y="432.3" font-size="19.6" fill="#673ab7" font-weight="bold" textLength="55" lengthAdjust="spacingAndGlyphs">Range</text>
<text x="1545" y="312.6" font-size="27.8" fill="#801922" font-weight="bold" textLength="137" lengthAdjust="spacingAndGlyphs">Resistance</text>
<text x="1581" y="439.2" font-size="27.8" fill="#4caf50" font-weight="bold" textLength="101" lengthAdjust="spacingAndGlyphs">Support</text>
<text x="1141.5" y="169.5" font-size="40" fill="#089981" font-weight="bold" textLength="264" lengthAdjust="spacingAndGlyphs">XAUUSD: Long</text>
<polygon points="1116.5,148 1127.1,160.3 1121.8,160.3 1121.8,169.5 1111.2,169.5 1111.2,160.3 1105.9,160.3" fill="#089981"/>
<polygon points="1436.3,148 1446.8999999999999,160.3 1441.6,160.3 1441.6,169.5 1431.0,169.5 1431.0,160.3 1425.7,160.3" fill="#089981"/>
<text x="185" y="558" font-size="21" fill="#2962ff" font-style="italic" textLength="170" lengthAdjust="spacingAndGlyphs" transform="rotate(-31 185 558)" stroke="#2962ff" stroke-width="0.5">Upward Channel</text>
<text x="1075" y="611" font-size="20.5" fill="#2962ff" textLength="220" lengthAdjust="spacingAndGlyphs" transform="rotate(-25 1075 611)" stroke="#2962ff" stroke-width="0.5">Triangle Support Line</text>
<line x1="454" y1="139.2" x2="526.1" y2="198.9" stroke="#2a2e39" stroke-width="1.15"/>
<rect x="370" y="126" width="84" height="25.5" rx="4.5" fill="#fff" filter="url(#sh)"/>
<text class="co" x="411.4" y="143.75" text-anchor="middle" textLength="66" lengthAdjust="spacingAndGlyphs">BREAKOUT</text>
<circle cx="526.1" cy="198.9" r="3.5" fill="#fff"/><circle cx="526.1" cy="198.9" r="2.4" fill="#131722"/>
<line x1="719.3" y1="256.5" x2="664.8" y2="323" stroke="#2a2e39" stroke-width="1.15"/>
<rect x="677" y="231" width="84" height="25.5" rx="4.5" fill="#fff" filter="url(#sh)"/>
<text class="co" x="718.4" y="248.75" text-anchor="middle" textLength="66" lengthAdjust="spacingAndGlyphs">BREAKOUT</text>
<circle cx="664.8" cy="323" r="3.5" fill="#fff"/><circle cx="664.8" cy="323" r="2.4" fill="#131722"/>
<line x1="388" y1="447.9" x2="333.3" y2="402" stroke="#2a2e39" stroke-width="1.15"/>
<rect x="388" y="435" width="84" height="25.5" rx="4.5" fill="#fff" filter="url(#sh)"/>
<text class="co" x="429.4" y="452.75" text-anchor="middle" textLength="66" lengthAdjust="spacingAndGlyphs">BREAKOUT</text>
<circle cx="333.3" cy="402" r="3.5" fill="#fff"/><circle cx="333.3" cy="402" r="2.4" fill="#131722"/>
<line x1="1074.4" y1="458" x2="1050.3" y2="423.9" stroke="#2a2e39" stroke-width="1.15"/>
<rect x="1032" y="458" width="84" height="25.5" rx="4.5" fill="#fff" filter="url(#sh)"/>
<text class="co" x="1073.4" y="475.75" text-anchor="middle" textLength="66" lengthAdjust="spacingAndGlyphs">BREAKOUT</text>
<circle cx="1050.3" cy="423.9" r="3.5" fill="#fff"/><circle cx="1050.3" cy="423.9" r="2.4" fill="#131722"/>
<line x1="0" y1="386.5" x2="1695" y2="386.5" stroke="#089981" stroke-width="1" stroke-dasharray="1 2" shape-rendering="crispEdges"/>
<text class="ax" x="1704" y="67.8">5,600.00</text>
<text class="ax" x="1704" y="119.5">5,500.00</text>
<text class="ax" x="1704" y="172.1">5,400.00</text>
<text class="ax" x="1704" y="225.8">5,300.00</text>
<text class="ax" x="1704" y="269.4">5,220.00</text>
<text class="ax" x="1704" y="313.7">5,140.00</text>
<text class="ax" x="1704" y="358.7">5,060.00</text>
<text class="ax" x="1704" y="450.9">4,900.00</text>
<text class="ax" x="1704" y="495.2">4,825.00</text>
<text class="ax" x="1704" y="531.1">4,765.00</text>
<text class="ax" x="1704" y="567.4">4,705.00</text>
<text class="ax" x="1704" y="604.2">4,645.00</text>
<text class="ax" x="1704" y="641.5">4,585.00</text>
<text class="ax" x="1704" y="679.3">4,525.00</text>
<text class="ax" x="1704" y="711.2">4,475.00</text>
<text class="ax" x="1704" y="743.4">4,425.00</text>
<text class="ax" x="1704" y="776.0">4,375.00</text>
<text class="ax" x="1704" y="807.7">4,327.00</text>
<text class="ax" x="1704" y="838.4">4,281.00</text>
<rect x="1696" y="319" width="60" height="16.8" rx="2" fill="#801922"/>
<text x="1704" y="331" font-size="12" font-weight="bold" fill="#fff">5,110.00</text>
<rect x="1696" y="378" width="60" height="31" rx="2" fill="#089981"/>
<text x="1704" y="389.6" font-size="12" font-weight="bold" fill="#fff">5,006.46</text>
<text x="1704" y="403.7" font-size="12" fill="#fff" fill-opacity="0.75" font-weight="bold">14:59</text>
<rect x="1696" y="409" width="60" height="16.9" rx="2" fill="#4caf50"/>
<text x="1704" y="420.5" font-size="12" font-weight="bold" fill="#fff">4,970.00</text>
<rect x="1699" y="4.5" width="58" height="25" rx="4" fill="#fff"/>
<text x="1708" y="22.1" font-size="12" fill="#131722" textLength="20.3" lengthAdjust="spacingAndGlyphs">USD</text>
<text class="ax" x="50" y="859.7" text-anchor="middle">20</text>
<text class="ax" x="122" y="859.7" text-anchor="middle">21</text>
<text class="ax" x="194.5" y="859.7" text-anchor="middle">22</text>
<text class="ax" x="267" y="859.7" text-anchor="middle">23</text>
<text class="ax" x="333" y="859.7" text-anchor="middle">25</text>
<text class="ax" x="411.5" y="859.7" text-anchor="middle">27</text>
<text class="ax" x="484" y="859.7" text-anchor="middle">28</text>
<text class="ax" x="556.5" y="859.7" text-anchor="middle">29</text>
<text class="ax" x="628.5" y="859.7" text-anchor="middle">30</text>
<text class="ax" x="773" y="859.7" text-anchor="middle">3</text>
<text class="ax" x="845.5" y="859.7" text-anchor="middle">4</text>
<text class="ax" x="917" y="859.7" text-anchor="middle">5</text>
<text class="ax" x="990" y="859.7" text-anchor="middle">6</text>
<text class="ax" x="1056" y="859.7" text-anchor="middle">8</text>
<text class="ax" x="1134.5" y="859.7" text-anchor="middle">10</text>
<text class="ax" x="1206.5" y="859.7" text-anchor="middle">11</text>
<text class="ax" x="1278.5" y="859.7" text-anchor="middle">12</text>
<text class="ax" x="1351" y="859.7" text-anchor="middle">13</text>
<text class="ax" x="1417" y="859.7" text-anchor="middle">15</text>
<text class="ax" x="1495.5" y="859.7" text-anchor="middle">17</text>
<text class="ax" x="1568" y="859.7" text-anchor="middle">18</text>
<text class="ax" x="1640" y="859.7" text-anchor="middle">19</text>
<text class="ax" x="695" y="859.7" text-anchor="middle" font-weight="bold">Feb</text>
<g transform="translate(1622.5 829)">
<circle cx="0" cy="0" r="10.8" fill="#f23645"/>
<circle cx="0" cy="0" r="9.2" fill="#fff"/>
<g clip-path="url(#fc)">
<rect x="-8" y="-8" width="16" height="16" fill="#fff"/>
<rect x="-8" y="-7.6" width="16" height="2.6" fill="#ef4444"/>
<rect x="-8" y="-1.4" width="16" height="2.6" fill="#ef4444"/>
<rect x="-8" y="4.5" width="16" height="3.2" fill="#ef4444"/>
<rect x="-8" y="-8" width="9.4" height="9.3" fill="#2f7fe0"/>
<g fill="#fff" opacity="0.85"><rect x="-4.2" y="-6.2" width="1.2" height="0.9"/><rect x="-1.8" y="-6.2" width="1.2" height="0.9"/>
<rect x="-6.4" y="-4" width="1.2" height="0.9"/><rect x="-4.2" y="-4" width="1.2" height="0.9"/><rect x="-1.8" y="-4" width="1.2" height="0.9"/>
<rect x="-6.4" y="-1.6" width="1.2" height="0.9"/><rect x="-4.2" y="-1.6" width="1.2" height="0.9"/><rect x="-1.8" y="-1.6" width="1.2" height="0.9"/></g>
</g></g><g transform="translate(1603.7 829)">
<circle cx="0" cy="0" r="10.8" fill="#f23645"/>
<circle cx="0" cy="0" r="9.2" fill="#fff"/>
<g clip-path="url(#fc)">
<rect x="-8" y="-8" width="16" height="16" fill="#fff"/>
<rect x="-8" y="-7.6" width="16" height="2.6" fill="#ef4444"/>
<rect x="-8" y="-1.4" width="16" height="2.6" fill="#ef4444"/>
<rect x="-8" y="4.5" width="16" height="3.2" fill="#ef4444"/>
<rect x="-8" y="-8" width="9.4" height="9.3" fill="#2f7fe0"/>
<g fill="#fff" opacity="0.85"><rect x="-4.2" y="-6.2" width="1.2" height="0.9"/><rect x="-1.8" y="-6.2" width="1.2" height="0.9"/>
<rect x="-6.4" y="-4" width="1.2" height="0.9"/><rect x="-4.2" y="-4" width="1.2" height="0.9"/><rect x="-1.8" y="-4" width="1.2" height="0.9"/>
<rect x="-6.4" y="-1.6" width="1.2" height="0.9"/><rect x="-4.2" y="-1.6" width="1.2" height="0.9"/><rect x="-1.8" y="-1.6" width="1.2" height="0.9"/></g>
</g></g>
<text x="8" y="20.7" font-size="12.5" font-weight="bold" fill="#131722" textLength="232" lengthAdjust="spacingAndGlyphs">Gold Spot / U.S. Dollar · 2h · FOREX.com</text>
</svg></body></html>
